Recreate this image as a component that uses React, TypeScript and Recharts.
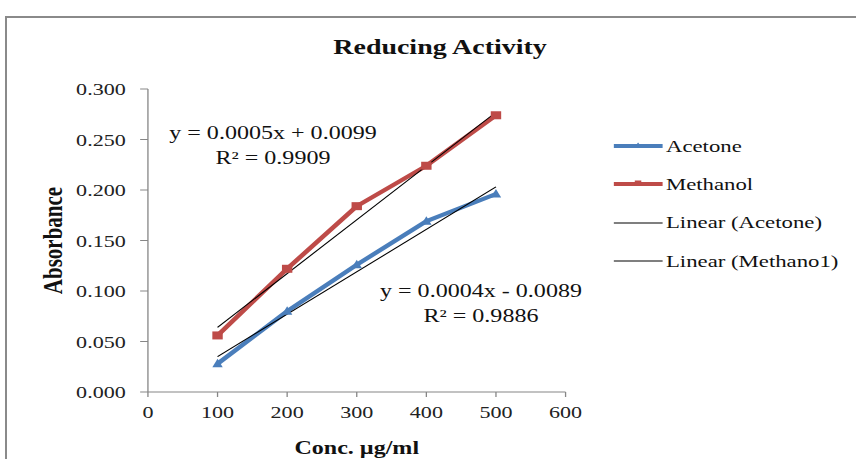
import { Label, Line, LineChart, XAxis, YAxis } from "recharts";

const concentrations = [100, 200, 300, 400, 500];
const acetone = [0.028, 0.08, 0.126, 0.169, 0.196];
const methanol = [0.056, 0.122, 0.184, 0.224, 0.274];
// trendline ends (x = 100 and x = 500)
const trendX = [100, 500];
const acetoneTrend = [0.035, 0.203];
const methanolTrend = [0.064, 0.277];
const xTicks = [0, 100, 200, 300, 400, 500, 600];
const yTicks = [0, 0.05, 0.1, 0.15, 0.2, 0.25, 0.3];

const BLUE = "#4a7ebb";
const RED = "#be4b48";
const FONT = "'Liberation Serif', 'Times New Roman', serif";
// the reference picture is stretched sideways, so the whole chart is drawn narrow and widened
const STRETCH = 1.3;
const INNER_W = 856 / STRETCH;

const toRows = (xs: number[], ys: number[]) => xs.map((x, i) => ({ x, y: ys[i] }));

function Triangle(props: any) {
  const { cx, cy } = props;
  if (cx == null || cy == null) return null;
  return <path d={`M${cx},${cy - 5} L${cx + 4},${cy + 3.5} L${cx - 4},${cy + 3.5} Z`} fill={BLUE} />;
}

function Square(props: any) {
  const { cx, cy } = props;
  if (cx == null || cy == null) return null;
  return <rect x={cx - 4} y={cy - 4} width={8} height={8} fill={RED} />;
}

const legendItems = [
  { name: "Acetone", color: BLUE, width: 4, marker: "triangle" },
  { name: "Methanol", color: RED, width: 4, marker: "square" },
  { name: "Linear (Acetone)", color: "#000", width: 1, marker: "" },
  { name: "Linear (Methano1)", color: "#000", width: 1, marker: "" },
];

const tickStyle = { fill: "#222", fontSize: 17, fontFamily: FONT };

function Swatch({ color, width, marker }: { color: string; width: number; marker: string }) {
  return (
    <svg width={37.7} height={12} style={{ marginRight: 2.3 }}>
      <line x1={0} x2={37.7} y1={6} y2={6} stroke={color} strokeWidth={width} />
      {marker === "triangle" && <path d="M18.85,2.5 L21.5,7 L16.2,7 Z" fill={color} />}
      {marker === "square" && <rect x={16.3} y={2.5} width={5} height={5} fill={color} />}
    </svg>
  );
}

export default function App() {
  return (
    <div
      style={{
        position: "absolute",
        left: 0,
        top: 0,
        width: 856,
        height: 459,
        background: "#fff",
        overflow: "hidden",
        fontFamily: FONT,
      }}
    >
      <div
        style={{
          position: "absolute",
          left: 5,
          top: 16,
          width: 880,
          height: 480,
          border: "2px solid #8a8a8a",
        }}
      />
      <div
        style={{
          position: "absolute",
          left: 0,
          top: 0,
          width: INNER_W,
          height: 459,
          transform: `scaleX(${STRETCH})`,
          transformOrigin: "0 0",
        }}
      >
        <div
          style={{
            position: "absolute",
            left: 138.5,
            width: 400,
            top: 35,
            textAlign: "center",
            fontSize: 21.5,
            fontWeight: "bold",
            color: "#111",
          }}
        >
          Reducing Activity
        </div>
        <div style={{ position: "absolute", left: 0, top: 0 }}>
          <LineChart width={INNER_W} height={459} margin={{ top: 89, right: 223.4, bottom: 7, left: 0 }}>
            <XAxis
              type="number"
              dataKey="x"
              domain={[0, 600]}
              ticks={xTicks}
              allowDuplicatedCategory={false}
              height={60}
              tickLine={{ stroke: "#868686" }}
              axisLine={{ stroke: "#868686" }}
              tickSize={5}
              tickMargin={9}
              tick={tickStyle}
            >
              <Label
                value="Conc. µg/ml"
                position="insideBottom"
                offset={-2}
                style={{ fontSize: 18.5, fontWeight: "bold", fill: "#111", fontFamily: FONT }}
              />
            </XAxis>
            <YAxis
              type="number"
              domain={[0, 0.3]}
              ticks={yTicks}
              width={113.8}
              tickFormatter={(v: number) => v.toFixed(3)}
              tickLine={{ stroke: "#868686" }}
              axisLine={{ stroke: "#868686" }}
              tickSize={6}
              tickMargin={11}
              tick={tickStyle}
            >
              <Label
                value="Absorbance"
                angle={-90}
                position="insideLeft"
                offset={40}
                style={{ fontSize: 21, fontWeight: "bold", fill: "#111", fontFamily: FONT, textAnchor: "middle" }}
              />
            </YAxis>
            <Line
              data={toRows(concentrations, acetone)}
              dataKey="y"
              stroke={BLUE}
              strokeWidth={4}
              dot={<Triangle />}
              isAnimationActive={false}
            />
            <Line
              data={toRows(concentrations, methanol)}
              dataKey="y"
              stroke={RED}
              strokeWidth={4}
              dot={<Square />}
              isAnimationActive={false}
            />
            <Line
              data={toRows(trendX, acetoneTrend)}
              dataKey="y"
              stroke="#000"
              strokeWidth={1}
              dot={false}
              isAnimationActive={false}
            />
            <Line
              data={toRows(trendX, methanolTrend)}
              dataKey="y"
              stroke="#000"
              strokeWidth={1}
              dot={false}
              isAnimationActive={false}
            />
          </LineChart>
        </div>
        <div
          style={{
            position: "absolute",
            left: 100,
            top: 120.5,
            width: 220,
            textAlign: "center",
            fontSize: 18.5,
            color: "#111",
            lineHeight: "25px",
          }}
        >
          y = 0.0005x + 0.0099
          <br />
          R² = 0.9909
        </div>
        <div
          style={{
            position: "absolute",
            left: 260,
            top: 278.5,
            width: 220,
            textAlign: "center",
            fontSize: 18.5,
            color: "#111",
            lineHeight: "25px",
          }}
        >
          y = 0.0004x - 0.0089
          <br />
          R² = 0.9886
        </div>
        <div style={{ position: "absolute", left: 472.3, top: 127 }}>
          {legendItems.map((item) => (
            <div
              key={item.name}
              style={{
                display: "flex",
                alignItems: "center",
                height: 38.3,
                fontSize: 17.5,
                color: "#111",
                whiteSpace: "nowrap",
              }}
            >
              <Swatch color={item.color} width={item.width} marker={item.marker} />
              {item.name}
            </div>
          ))}
        </div>
      </div>
    </div>
  );
}
